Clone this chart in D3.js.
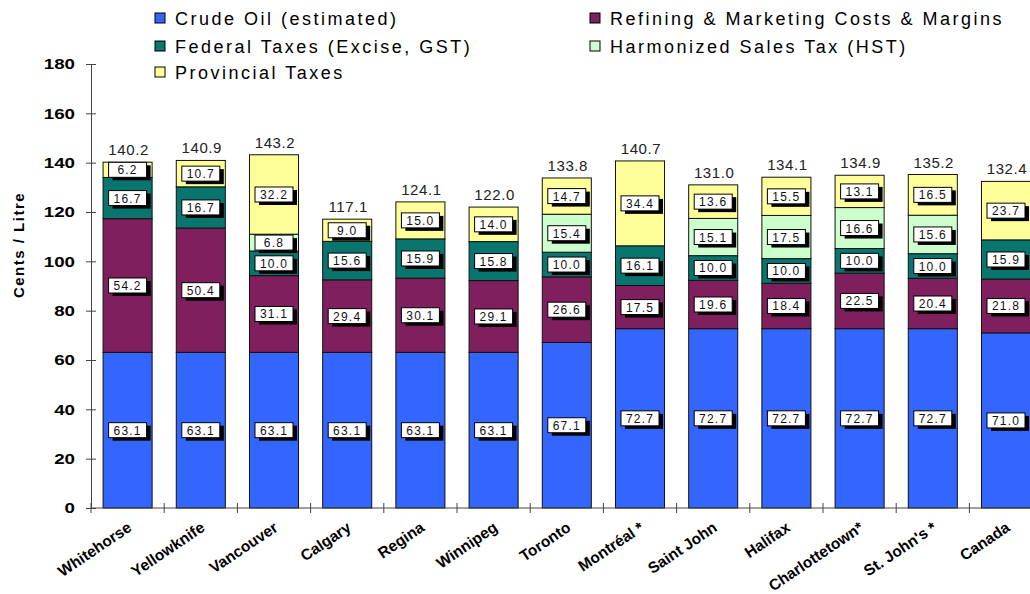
<!DOCTYPE html>
<html><head><meta charset="utf-8">
<script src="https://cdn.jsdelivr.net/npm/d3@7"></script>
<style>
html,body{margin:0;padding:0;background:#fff;overflow:hidden;}
text{font-family:"Liberation Sans",Arial,sans-serif;}
</style></head>
<body><svg id="c" width="1030" height="594"></svg>
<script>
const categories = ["Whitehorse","Yellowknife","Vancouver","Calgary","Regina","Winnipeg","Toronto","Montréal *","Saint John","Halifax","Charlottetown*","St. John's *","Canada"];
const crude      = [63.1,63.1,63.1,63.1,63.1,63.1,67.1,72.7,72.7,72.7,72.7,72.7,71.0];
const refining   = [54.2,50.4,31.1,29.4,30.1,29.1,26.6,17.5,19.6,18.4,22.5,20.4,21.8];
const federal    = [16.7,16.7,10.0,15.6,15.9,15.8,10.0,16.1,10.0,10.0,10.0,10.0,15.9];
const hst        = [0,0,6.8,0,0,0,15.4,0,15.1,17.5,16.6,15.6,0];
const provincial = [6.2,10.7,32.2,9.0,15.0,14.0,14.7,34.4,13.6,15.5,13.1,16.5,23.7];
const totals     = [140.2,140.9,143.2,117.1,124.1,122.0,133.8,140.7,131.0,134.1,134.9,135.2,132.4];
const seriesKeys = ["crude","refining","federal","hst","provincial"];
const seriesNames = ["Crude Oil (estimated)","Refining & Marketing Costs & Margins","Federal Taxes (Excise, GST)","Harmonized Sales Tax (HST)","Provincial Taxes"];
const seriesColors = ["#3366FF","#7F1F5E","#08766F","#CCFFCC","#FFFF99"];
const yTicks = [0,20,40,60,80,100,120,140,160,180];
const yTitle = "Cents / Litre";

const rows = categories.map((c,i)=>({cat:c, crude:crude[i], refining:refining[i], federal:federal[i], hst:hst[i], provincial:provincial[i], total:totals[i]}));

const svg = d3.select("#c");
const x = d3.scaleBand().domain(categories).range([91, 1042.6]).paddingInner(0.33).paddingOuter(0.165);
const y = d3.scaleLinear().domain([0,180]).range([508, 64]);
const color = d3.scaleOrdinal().domain(seriesKeys).range(seriesColors);

const stacked = d3.stack().keys(seriesKeys)(rows);

// bars
const g = svg.append("g");
stacked.forEach(s => {
  g.selectAll(null).data(s.filter(d => d[1]-d[0] > 0)).enter().append("rect")
    .attr("x", d => x(d.data.cat))
    .attr("width", x.bandwidth())
    .attr("y", d => y(d[1]))
    .attr("height", d => y(d[0]) - y(d[1]))
    .attr("fill", color(s.key))
    .attr("stroke", "#111").attr("stroke-width", 1);
});

// axes
const yAxis = svg.append("g").attr("transform","translate(91,0)")
  .call(d3.axisLeft(y).tickValues(yTicks).tickSize(5).tickSizeOuter(0).tickPadding(12));
yAxis.select(".domain").attr("stroke","#444");
yAxis.selectAll(".tick line").attr("x1",5).attr("x2",-5).attr("stroke","#444");
yAxis.selectAll(".tick text").attr("font-size",15).attr("font-weight","bold").attr("fill","#000")
  .attr("transform","scale(1.25,1)").attr("x",-16/1.25).attr("dx",0);

const xAxis = svg.append("g").attr("transform","translate(0,508)")
  .call(d3.axisBottom(x).tickSize(0).tickPadding(0));
xAxis.select(".domain").attr("stroke","#444").attr("d","M91,0H1040");
const half = (x.step()-x.bandwidth())/2;
const bounds = categories.map(c => x(c)-half).concat([x(categories[categories.length-1])+x.bandwidth()+half]);
xAxis.selectAll(".bt").data(bounds).enter().append("line")
  .attr("x1",d=>d).attr("x2",d=>d).attr("y1",-5).attr("y2",5).attr("stroke","#444");
xAxis.selectAll(".tick text")
  .attr("font-size",15.5).attr("font-weight","bold").attr("fill","#000")
  .attr("text-anchor","end").attr("y",0).attr("dy",0)
  .attr("transform","translate(5,22) rotate(-34)");

// y title
svg.append("text").attr("transform","translate(24,245) rotate(-90)")
  .attr("text-anchor","middle").attr("font-size",15).attr("font-weight","bold").attr("letter-spacing","1.5px").text(yTitle);

// segment value labels
const lab = svg.append("g");
stacked.forEach(s => {
  s.filter(d => d[1]-d[0] > 0).forEach(d => {
    const cx = x(d.data.cat) + x.bandwidth()/2;
    const cy = y((d[0]+d[1])/2);
    const gg = lab.append("g").attr("transform",`translate(${cx},${cy})`);
    gg.append("rect").attr("x",-19+4).attr("y",-7.5+3).attr("width",38).attr("height",15).attr("fill","#000");
    gg.append("rect").attr("x",-19).attr("y",-7.5).attr("width",38).attr("height",15).attr("fill","#fff").attr("stroke","#000").attr("stroke-width",1);
    gg.append("text").attr("text-anchor","middle").attr("y",4.5).attr("font-size",12).attr("letter-spacing","1.2px").attr("fill","#111")
      .text((d[1]-d[0]).toFixed(1));
  });
});

// totals
svg.append("g").selectAll("text").data(rows).enter().append("text")
  .attr("x", d => x(d.cat)+x.bandwidth()/2 + 1)
  .attr("y", d => y(d.total) - 7)
  .attr("text-anchor","middle").attr("font-size",15).attr("letter-spacing","0.6px").attr("fill","#222")
  .text(d => d.total.toFixed(1));

// legend
const legendPos = [[155,18],[590,18],[155,46],[590,46],[155,72]];
const lg = svg.append("g");
seriesKeys.forEach((k,i) => {
  const [lx,ly] = legendPos[i];
  lg.append("rect").attr("x",lx).attr("y",ly-5).attr("width",10).attr("height",10)
    .attr("fill",seriesColors[i]).attr("stroke","#000").attr("stroke-width",1);
  lg.append("text").attr("x",lx+20).attr("y",ly+6.5).attr("font-size",18).attr("letter-spacing","2.5px").attr("fill","#000")
    .text(seriesNames[i]);
});
</script></body></html>
